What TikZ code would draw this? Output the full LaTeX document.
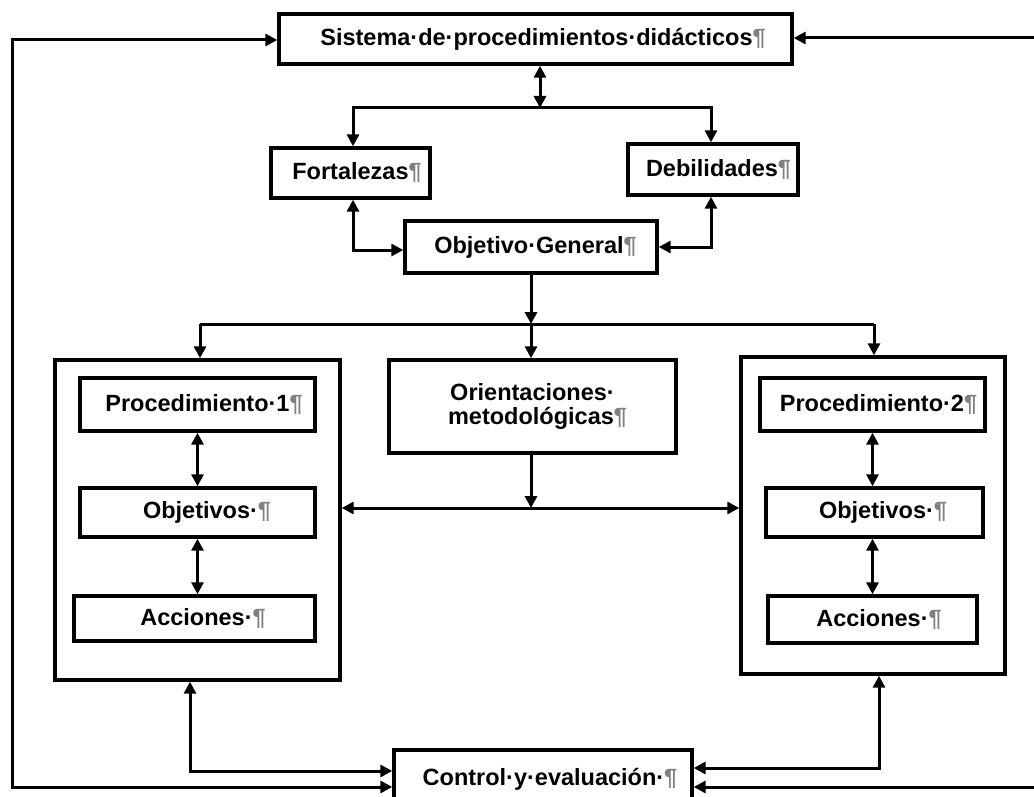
\documentclass[tikz,border=0pt]{standalone}
\usepackage{fontspec}
\setmainfont{Liberation Sans}
\usetikzlibrary{arrows.meta,calc}
\newcommand\pilmark{\textcolor{gray}{¶}}
\begin{document}
\begin{tikzpicture}[x=1pt,y=-1pt,
  box/.style={draw, line width=3.4pt, inner sep=0pt, font=\bfseries\fontsize{23.5}{24}\selectfont, align=center},
  line/.style={line width=3pt},
  arr/.style={line width=3pt, -{Triangle[length=12pt,width=12pt]}},
  dbl/.style={line width=3pt, {Triangle[length=12pt,width=12pt]}-{Triangle[length=12pt,width=12pt]}}]
\useasboundingbox (0,0) rectangle (1034,797);
\clip (0,0) rectangle (1034,797);
\fill[white] (0,0) rectangle (1034,797);
% boxes
\node[box, minimum width=513pt, minimum height=50pt] (sis) at (535.5,39) {\hspace*{15pt}Sistema·de·procedimientos·didácticos\pilmark};
\node[box, minimum width=159pt, minimum height=50pt] (fort) at (350.5,173) {\hspace*{13pt}Fortalezas\pilmark};
\node[box, minimum width=170pt, minimum height=51pt] (deb) at (713,169.5) {\hspace*{11pt}Debilidades\pilmark};
\node[box, minimum width=252pt, minimum height=52pt] (og) at (531,247) {\hspace*{9pt}Objetivo·General\pilmark};
\node[box, minimum width=285pt, minimum height=320pt] (lbox) at (197.5,520) {};
\node[box, minimum width=235pt, minimum height=53pt] (proc1) at (197.5,404.5) {\hspace*{13pt}Procedimiento·1\pilmark};
\node[box, minimum width=235pt, minimum height=49pt] (obj1) at (197.5,512.5) {\hspace*{19pt}Objetivos·\pilmark};
\node[box, minimum width=241pt, minimum height=45pt] (acc1) at (194.5,618.5) {\hspace*{17pt}Acciones·\pilmark};
\node[box, minimum width=287pt, minimum height=93pt] (ori) at (532.5,406.5) {Orientaciones·\\\hspace*{10pt}metodológicas\pilmark};
\node[box, minimum width=264pt, minimum height=317pt] (rbox) at (873,515.5) {};
\node[box, minimum width=225pt, minimum height=53pt] (proc2) at (872.5,404.5) {\hspace*{12pt}Procedimiento·2\pilmark};
\node[box, minimum width=217pt, minimum height=49pt] (obj2) at (874.5,512.5) {\hspace*{17pt}Objetivos·\pilmark};
\node[box, minimum width=209pt, minimum height=47pt] (acc2) at (872.5,619.5) {\hspace*{13pt}Acciones·\pilmark};
\node[box, minimum width=298pt, minimum height=60pt] (ctrl) at (543,780) {\raisebox{7pt}{\hspace*{14pt}Control·y·evaluación·\pilmark}};
% coordinates
\coordinate (jt) at (540,108);
\coordinate (fj) at (353,250);
\coordinate (dj) at (711,247);
\coordinate (jm) at (531,324);
\coordinate (hl) at (200,324);
\coordinate (hr) at (874,324);
\coordinate (jo) at (531,508);
\coordinate (lbj) at (190,771);
\coordinate (rbj) at (879,768);
\coordinate (lfb) at (12,787);
\coordinate (lft) at (12,40);
\coordinate (rfb) at (1045,787);
\coordinate (rft) at (1045,38);
% connectors
\draw[dbl] (sis.south -| jt) -- (jt);
\draw[arr] (jt) -| (fort.north -| fj);
\draw[arr] (jt) -| (deb.north -| dj);
\draw[dbl] (fort.south -| fj) -- (fj) -- (og.west |- fj);
\draw[dbl] (deb.south -| dj) -- (dj) -- (og.east |- dj);
\draw[arr] (og.south -| jm) -- (jm);
\draw[line] (hl) -- (hr);
\draw[arr] (hl) -- (lbox.north -| hl);
\draw[arr] (jm) -- (ori.north -| jm);
\draw[arr] (hr) -- (rbox.north -| hr);
\draw[arr] (ori.south -| jo) -- (jo);
\draw[dbl] (lbox.east |- jo) -- (rbox.west |- jo);
\draw[dbl] (proc1.south) -- (obj1.north);
\draw[dbl] (obj1.south) -- (acc1.north -| obj1.south);
\draw[dbl] (proc2.south) -- (obj2.north -| proc2.south);
\draw[dbl] (obj2.south -| proc2.south) -- (acc2.north -| proc2.south);
\draw[dbl] (lbox.south -| lbj) -- (lbj) -- (ctrl.west |- lbj);
\draw[dbl] (rbox.south -| rbj) -- (rbj) -- (ctrl.east |- rbj);
\draw[dbl] (ctrl.west |- lfb) -- (lfb) -- (lft) -- (sis.west |- lft);
\draw[dbl] (ctrl.east |- rfb) -- (rfb) -- (rft) -- (sis.east |- rft);
\end{tikzpicture}
\end{document}
